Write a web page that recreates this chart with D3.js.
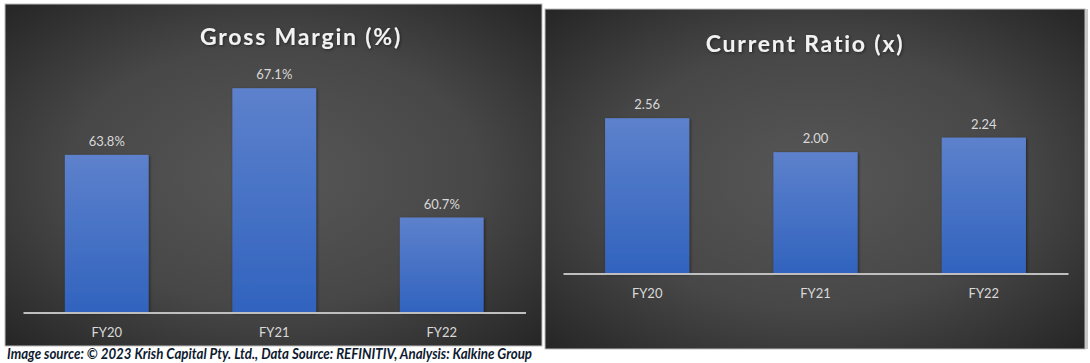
<!DOCTYPE html>
<html>
<head>
<meta charset="utf-8">
<title>Gross Margin and Current Ratio</title>
<script src="https://d3js.org/d3.v7.min.js"></script>
<style>
  body { margin: 0; background: #fff; }
  svg { display: block; }
  .title { font-family: Lato, "Open Sans", sans-serif; font-weight: bold; fill: #f2f2f2; letter-spacing: 1.8px; }
  .lbl { font-family: Lato, "Open Sans", sans-serif; fill: #d9d9d9; font-size: 13px; }
  .cat { font-family: Lato, "Open Sans", sans-serif; fill: #d9d9d9; font-size: 13px; }
  .foot { font-family: Lato, "Open Sans", sans-serif; font-weight: bold; font-style: italic; fill: #0e1a30; font-size: 14.5px; }
</style>
</head>
<body>
<script>
var years = ["FY20", "FY21", "FY22"];
var grossMargin = [63.8, 67.1, 60.7];
var currentRatio = [2.56, 2.00, 2.24];
var marginAxis = [56, 68];
var ratioAxis = [0, 3];
var footerText = "Image source: \u00a9 2023 Krish Capital Pty. Ltd., Data Source: REFINITIV, Analysis: Kalkine Group";

var w = 1090, h = 363;
var svg = d3.select("body").append("svg").attr("width", w).attr("height", h);
var defs = svg.append("defs");

var bg = defs.append("radialGradient").attr("id", "bg").attr("cx", "50%").attr("cy", "50%").attr("r", "70%");
bg.append("stop").attr("offset", "0%").attr("stop-color", "#575757");
bg.append("stop").attr("offset", "55%").attr("stop-color", "#474747");
bg.append("stop").attr("offset", "100%").attr("stop-color", "#262626");

var barGrad = defs.append("linearGradient").attr("id", "bar").attr("x1", 0).attr("y1", 0).attr("x2", 0).attr("y2", 1);
barGrad.append("stop").attr("offset", "0%").attr("stop-color", "#5d81cc");
barGrad.append("stop").attr("offset", "100%").attr("stop-color", "#3163be");

var shadow = defs.append("filter").attr("id", "shadow").attr("x", "-10%").attr("y", "-10%").attr("width", "130%").attr("height", "130%");
shadow.append("feDropShadow").attr("dx", 1).attr("dy", 1).attr("stdDeviation", 1.5).attr("flood-color", "#000").attr("flood-opacity", 0.5);

function panel(o) {
  var g = svg.append("g");
  g.append("rect")
    .attr("x", o.x0).attr("y", o.y0)
    .attr("width", o.x1 - o.x0).attr("height", o.y1 - o.y0)
    .attr("fill", "url(#bg)")
    .attr("stroke", "#bdbdbd").attr("stroke-width", 1);

  g.append("text").attr("class", "title")
    .attr("x", o.titleX).attr("y", o.titleY)
    .attr("text-anchor", "middle")
    .attr("font-size", 23)
    .attr("filter", "url(#shadow)")
    .text(o.title);

  var x = d3.scaleBand().domain(years).range([o.ax0, o.ax1]).paddingInner(0.5).paddingOuter(0.25);
  var y = d3.scaleLinear().domain(o.domain).range([o.base, o.top]);

  g.selectAll("rect.bar")
    .data(o.values)
    .enter().append("rect")
    .attr("class", "bar")
    .attr("x", (d, i) => x(years[i]))
    .attr("y", d => y(d))
    .attr("width", x.bandwidth())
    .attr("height", d => o.base - y(d))
    .attr("fill", "url(#bar)")
    .attr("filter", "url(#shadow)");

  g.selectAll("text.lbl")
    .data(o.values)
    .enter().append("text")
    .attr("class", "lbl")
    .attr("x", (d, i) => x(years[i]) + x.bandwidth() / 2)
    .attr("y", d => y(d) - 9)
    .attr("text-anchor", "middle")
    .text(o.fmt);

  var xAxis = d3.axisBottom(x).tickSize(0).tickPadding(15);
  var ax = g.append("g").attr("transform", "translate(0," + o.base + ")").call(xAxis);
  ax.select(".domain").attr("stroke", "#bfbfbf").attr("stroke-width", 2);
  ax.selectAll(".tick text").attr("class", "cat").attr("fill", null).attr("font-size", null).attr("font-family", null);
}

panel({
  x0: 5, y0: 4, x1: 542, y1: 346,
  title: "Gross Margin (%)", titleX: 301, titleY: 45,
  ax0: 23, ax1: 525.5, base: 312.5, top: 70,
  domain: marginAxis, values: grossMargin,
  fmt: d => d.toFixed(1) + "%"
});

panel({
  x0: 545, y0: 9, x1: 1085, y1: 349,
  title: "Current Ratio (x)", titleX: 805, titleY: 52,
  ax0: 563, ax1: 1068, base: 273.5, top: 91.5,
  domain: ratioAxis, values: currentRatio,
  fmt: d => d.toFixed(2)
});

// thin grey strip at the far right edge
svg.append("rect").attr("x", 1085).attr("y", 9).attr("width", 3).attr("height", 340).attr("fill", "#c8c8c8");

svg.append("text").attr("class", "foot")
  .attr("x", 7).attr("y", 359)
  .attr("textLength", 525).attr("lengthAdjust", "spacingAndGlyphs")
  .text(footerText);
</script>
</body>
</html>
